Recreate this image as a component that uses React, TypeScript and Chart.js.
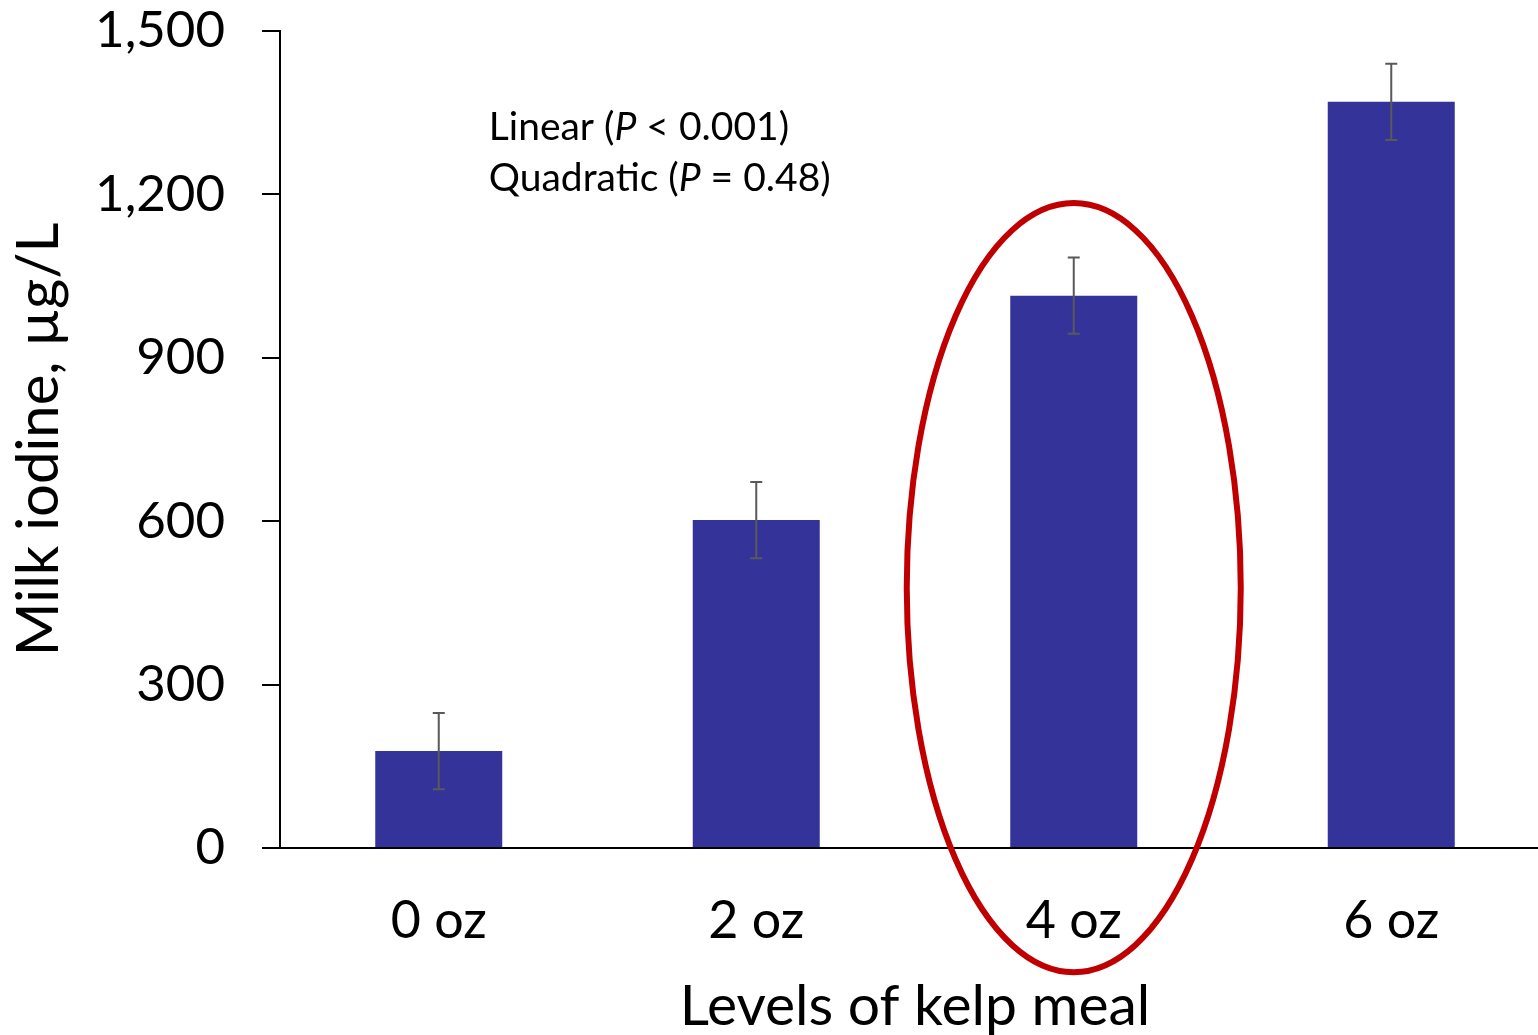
import React, { useEffect, useRef } from "react";
import { Chart, registerables } from "chart.js";

Chart.register(...registerables);

const categories = ["0 oz", "2 oz", "4 oz", "6 oz"];
const iodineMeans = [178, 602, 1014, 1370];
const iodineErrors = [70, 70, 70, 70];
const yTicks = [0, 300, 600, 900, 1200, 1500];
const highlightIndex = 2;
const noteLines = [
  ["Linear (", "P", " < 0.001)"],
  ["Quadratic (", "P", " = 0.48)"],
];
const noteValues = [1300, 1206];

const FONT = "Lato, 'Open Sans', sans-serif";

const overlayPlugin = {
  id: "overlay",
  afterDatasetsDraw(chart: any) {
    const { ctx } = chart;
    const x = chart.scales.x;
    const y = chart.scales.y;
    ctx.save();
    // error bars
    ctx.strokeStyle = "#595959";
    ctx.lineWidth = 2;
    iodineMeans.forEach((m, i) => {
      const px = x.getPixelForValue(i);
      const top = y.getPixelForValue(m + iodineErrors[i]);
      const bot = y.getPixelForValue(m - iodineErrors[i]);
      ctx.beginPath();
      ctx.moveTo(px, top);
      ctx.lineTo(px, bot);
      ctx.moveTo(px - 6, top);
      ctx.lineTo(px + 6, top);
      ctx.moveTo(px - 6, bot);
      ctx.lineTo(px + 6, bot);
      ctx.stroke();
    });
    // highlight ellipse
    const cx = x.getPixelForValue(highlightIndex);
    const catW = x.getPixelForValue(1) - x.getPixelForValue(0);
    const yTop = y.getPixelForValue(1184);
    const yBot = y.getPixelForValue(-228);
    ctx.strokeStyle = "#C00000";
    ctx.lineWidth = 6;
    ctx.beginPath();
    ctx.ellipse(cx, (yTop + yBot) / 2, catW * 0.526, (yBot - yTop) / 2, 0, 0, Math.PI * 2);
    ctx.stroke();
    // note text
    ctx.fillStyle = "#000";
    ctx.textBaseline = "alphabetic";
    ctx.textAlign = "left";
    const startX = x.getPixelForValue(0) + 50;
    noteLines.forEach((parts, li) => {
      let tx = startX;
      const ty = y.getPixelForValue(noteValues[li]);
      parts.forEach((p, pi) => {
        ctx.font = (pi === 1 ? "italic " : "") + "39px " + FONT;
        ctx.fillText(p, tx, ty);
        tx += ctx.measureText(p).width;
      });
    });
    ctx.restore();
  },
};

export default function App() {
  const ref = useRef<HTMLCanvasElement>(null);
  useEffect(() => {
    if (!ref.current) return;
    const chart = new Chart(ref.current, {
      type: "bar",
      data: {
        labels: categories,
        datasets: [
          {
            data: iodineMeans,
            backgroundColor: "#333399",
            categoryPercentage: 1,
            barPercentage: 0.4,
          },
        ],
      },
      options: {
        responsive: false,
        animation: false,
        layout: { padding: { top: 31, right: 0, left: 0, bottom: 0 } },
        plugins: { legend: { display: false }, tooltip: { enabled: false } },
        scales: {
          x: {
            afterFit(scale: any) {
              scale.height = 1035 - 848;
              scale.paddingLeft = 0;
              scale.paddingRight = 0;
            },
            grid: { drawOnChartArea: false, drawTicks: false },
            border: { display: true, color: "#000", width: 2 },
            ticks: { color: "#000", font: { family: FONT, size: 52 }, padding: 42 },
            title: {
              display: true,
              text: "Levels of kelp meal",
              color: "#000",
              font: { family: FONT, size: 57 },
              padding: { top: 0, bottom: -6 },
            },
          },
          y: {
            min: 0,
            max: 1500,
            afterFit(scale: any) {
              scale.width = 280;
              scale.paddingTop = 0;
              scale.paddingBottom = 0;
            },
            afterBuildTicks(scale: any) {
              scale.ticks = yTicks.map((v) => ({ value: v }));
            },
            grid: { drawOnChartArea: false, drawTicks: true, tickLength: 18, color: "#000", lineWidth: 2 },
            border: { display: true, color: "#000", width: 2 },
            ticks: {
              color: "#000",
              font: { family: FONT, size: 51 },
              padding: 37,
              callback: (v: any) => Number(v).toLocaleString("en-US"),
            },
            title: {
              display: true,
              text: "Milk iodine, µg/L",
              color: "#000",
              font: { family: FONT, size: 58 },
              padding: { top: 4, bottom: 0 },
            },
          },
        },
      },
      plugins: [overlayPlugin],
    });
    return () => chart.destroy();
  }, []);
  return (
    <div style={{ position: "fixed", left: 0, top: 0, width: 1538, height: 1035, overflow: "hidden", background: "#fff" }}>
      <canvas ref={ref} width={1550} height={1035} style={{ display: "block" }} />
    </div>
  );
}
